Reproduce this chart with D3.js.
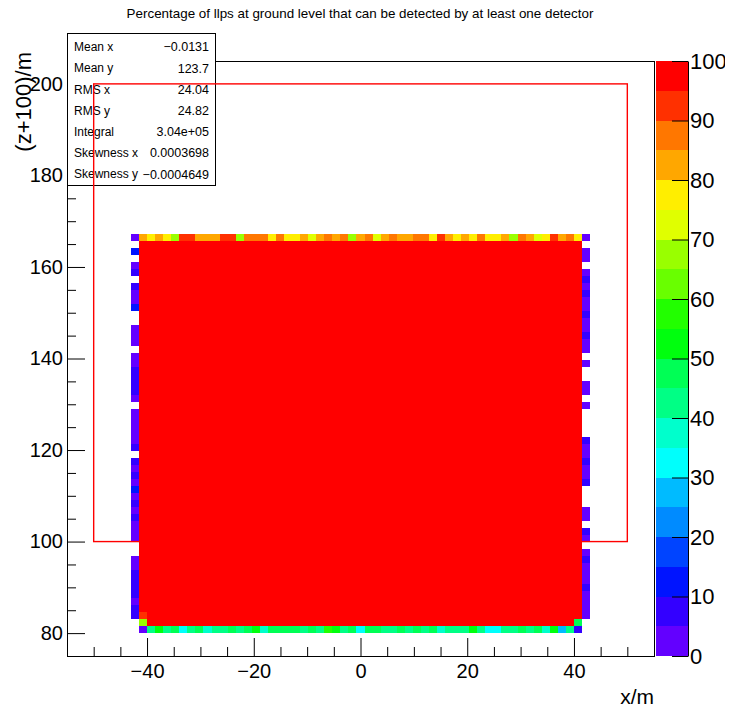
<!DOCTYPE html>
<html>
<head>
<meta charset="utf-8">
<script src="https://cdn.jsdelivr.net/npm/d3@7"></script>
<style>
  body { margin: 0; background: #fff; }
  svg { display: block; font-family: "Liberation Sans", Arial, sans-serif; }
</style>
</head>
<body>
<div id="root"></div>
<script>
// binning of the filled part of the histogram (x/m and (z+100)/m)
const xBinRange = [-43, 43];
const yBinRange = [80, 167.2];
const nBinsX = 57;
const nBinsY = 57;

// value of every bin inside the border
const fullValue = 100;

// border bins, in percent (null = empty bin)
const topRow = [82, 77, 82, 77, 67, 92, 92, 82, 82, 82, 92, 92, 67, 87, 87, 87, 77, 87, 77, 77,
  82, 72, 82, 87, 82, 87, 67, 82, 87, 72, 82, 87, 82, 82, 87, 87, 77, 92, 82, 77,
  82, 77, 87, 77, 77, 82, 67, 87, 82, 72, 77, 92, 82, 87, 77];
const bottomRow = [3, 42, 52, 42, 47, 32, 42, 47, 37, 42, 42, 47, 42, 47, 52, 37, 47, 47, 47, 47,
  42, 47, 42, 57, 52, 42, 47, 32, 47, 47, 42, 42, 47, 42, 47, 42, 47, 37, 42, 42,
  42, 52, 42, 32, 32, 42, 42, 47, 42, 47, 37, 52, 27, 42, 7];
// from bottom row to top row
const leftColumn = [null, null, 7, 7, 3, 7, 7, 7, 7, 3, 3, null, null, 3, 3, 3, 7, 3, 7, 3,
  12, 3, 7, 3, 7, null, 7, 3, 3, 3, 3, 3, null, 3, 7, 7, 7, 7, 3, 3,
  null, 3, 3, 3, null, null, 12, 3, 3, 7, null, 7, 3, null, 12, null, 3];
const rightColumn = [null, null, 3, 3, 3, 3, 7, 3, 3, 3, 7, 3, null, 3, 7, null, 3, 3, null, null,
  null, 7, 3, 3, 7, 3, 3, 7, null, null, null, null, 3, null, 3, 3, null, null, 3, null,
  3, 3, 7, 3, 3, 7, 3, 3, 7, 3, 7, 3, null, 3, 3, null, 3];
// [column, row, value]
const cornerBins = [[1, 1, 67], [1, 2, 92], [55, 1, 47]];

const statNames = ["Mean x", "Mean y", "RMS x", "RMS y", "Integral", "Skewness x", "Skewness y"];
const statValues = ["\u22120.0131", "123.7", "24.04", "24.82", "3.04e+05", "0.0003698", "\u22120.0004649"];

const xTicks = [-40, -20, 0, 20, 40];
const yTicks = [80, 100, 120, 140, 160, 180, 200];
const zTicks = [0, 10, 20, 30, 40, 50, 60, 70, 80, 90, 100];

// red box drawn on the plot
const boxCorners = [[-50, 100], [50, 200]];

const W = 735, H = 712;
const frame = { left: 67, right: 654, top: 61, bottom: 656 };
const nLevels = 20;

// ROOT "pretty" palette, 50 colours violet -> red, picked for 20 contours
const palette = d3.range(nLevels).map(j => {
  const idx = Math.floor((j + 0.99) * 50 / nLevels);
  const hue = 280 - (idx + 1) * 5.6;
  return d3.hsl(hue, 1, 0.5).formatHex();
});

function buildBins() {
  const bins = [];
  for (let r = 0; r < nBinsY; r++) {
    for (let c = 0; c < nBinsX; c++) {
      let v;
      if (c === 0) v = leftColumn[r];
      else if (c === nBinsX - 1) v = rightColumn[r];
      else if (r === 0) v = bottomRow[c - 1];
      else if (r === nBinsY - 1) v = topRow[c - 1];
      else v = fullValue;
      const corner = cornerBins.find(b => b[0] === c && b[1] === r);
      if (corner) v = corner[2];
      if (v != null) bins.push({ col: c, row: r, value: v });
    }
  }
  return bins;
}

const svg = d3.select("#root").append("svg")
  .attr("width", W)
  .attr("height", H);

svg.append("rect").attr("width", W).attr("height", H).attr("fill", "#fff");

const x = d3.scaleLinear().domain([-55, 55]).range([frame.left, frame.right]);
const y = d3.scaleLinear().domain([75, 205]).range([frame.bottom, frame.top]);
const z = d3.scaleLinear().domain([0, 100]).range([frame.bottom, frame.top]);

const xEdge = d3.scaleLinear().domain([0, nBinsX]).range(xBinRange);
const yEdge = d3.scaleLinear().domain([0, nBinsY]).range(yBinRange);
const level = v => Math.min(nLevels - 1, Math.floor(v / (100 / nLevels)));

// bins
svg.append("g")
  .attr("shape-rendering", "crispEdges")
  .selectAll("rect")
  .data(buildBins())
  .join("rect")
  .attr("x", d => Math.round(x(xEdge(d.col))))
  .attr("y", d => Math.round(y(yEdge(d.row + 1))))
  .attr("width", d => Math.round(x(xEdge(d.col + 1))) - Math.round(x(xEdge(d.col))))
  .attr("height", d => Math.round(y(yEdge(d.row))) - Math.round(y(yEdge(d.row + 1))))
  .attr("fill", d => palette[level(d.value)]);

// axes
const minorX = d3.range(-55, 56, 5).filter(v => !xTicks.includes(v));
const minorY = d3.range(75, 206, 5).filter(v => !yTicks.includes(v));

function styleAxis(g, size) {
  g.select(".domain").remove();
  g.selectAll("line").attr("stroke", "#000");
  g.selectAll("text").attr("fill", "#000").attr("font-size", size);
  g.attr("font-family", null);
}

svg.append("g")
  .attr("transform", `translate(0,${frame.bottom})`)
  .call(d3.axisBottom(x).tickValues(minorX).tickSize(-9).tickFormat(""))
  .call(g => styleAxis(g, 20));
svg.append("g")
  .attr("transform", `translate(0,${frame.bottom})`)
  .call(d3.axisBottom(x).tickValues(xTicks).tickSize(-18).tickPadding(8))
  .call(g => styleAxis(g, 20));

svg.append("g")
  .attr("transform", `translate(${frame.left},0)`)
  .call(d3.axisLeft(y).tickValues(minorY).tickSize(-9).tickFormat(""))
  .call(g => styleAxis(g, 20));
svg.append("g")
  .attr("transform", `translate(${frame.left},0)`)
  .call(d3.axisLeft(y).tickValues(yTicks).tickSize(-18).tickPadding(4))
  .call(g => styleAxis(g, 20));

svg.append("rect")
  .attr("x", frame.left).attr("y", frame.top)
  .attr("width", frame.right - frame.left)
  .attr("height", frame.bottom - frame.top)
  .attr("fill", "none")
  .attr("stroke", "#000")
  .attr("shape-rendering", "crispEdges");

// axis titles
svg.append("text")
  .text("x/m")
  .attr("x", frame.right)
  .attr("y", 704)
  .attr("text-anchor", "end")
  .attr("font-size", 21);

svg.append("text")
  .text("(z+100)/m")
  .attr("transform", "translate(31,52) rotate(-90)")
  .attr("text-anchor", "end")
  .attr("font-size", 22);

// title
svg.append("text")
  .text("Percentage of llps at ground level that can be detected by at least one detector")
  .attr("x", 360)
  .attr("y", 18)
  .attr("text-anchor", "middle")
  .attr("font-size", 13.4);

// colour palette
const barX0 = 656, barX1 = 688;
svg.append("g")
  .attr("shape-rendering", "crispEdges")
  .selectAll("rect")
  .data(palette)
  .join("rect")
  .attr("x", barX0)
  .attr("y", (d, i) => z((i + 1) * 100 / nLevels))
  .attr("width", barX1 - barX0)
  .attr("height", (d, i) => z(i * 100 / nLevels) - z((i + 1) * 100 / nLevels))
  .attr("fill", d => d);

// labels of the palette run past the pad edge
svg.append("clipPath").attr("id", "pad-clip")
  .append("rect").attr("x", -barX1).attr("y", 0).attr("width", 725).attr("height", H);

svg.append("g")
  .attr("transform", `translate(${barX1},0)`)
  .attr("clip-path", "url(#pad-clip)")
  .call(d3.axisRight(z).tickValues(zTicks).tickSize(-16).tickSizeOuter(0).tickPadding(2))
  .call(g => {
    g.select(".domain").attr("stroke", "#000");
    g.selectAll("line").attr("stroke", "#000");
    g.selectAll("text").attr("fill", "#000").attr("font-size", 22);
    g.attr("font-family", null);
  });

// stats box
const stats = svg.append("g");
const boxX = 67, boxY = 33, boxW = 148, boxH = 152;
stats.append("rect")
  .attr("x", boxX).attr("y", boxY)
  .attr("width", boxW).attr("height", boxH)
  .attr("fill", "#fff").attr("stroke", "#000")
  .attr("shape-rendering", "crispEdges");
const lineH = 21.2;
stats.selectAll("text.name")
  .data(statNames)
  .join("text")
  .attr("class", "name")
  .text(d => d)
  .attr("x", boxX + 7)
  .attr("y", (d, i) => 47 + lineH * i)
  .attr("dy", "0.35em")
  .attr("font-size", 12);
stats.selectAll("text.value")
  .data(statValues)
  .join("text")
  .attr("class", "value")
  .text(d => d)
  .attr("x", boxX + boxW - 6)
  .attr("y", (d, i) => 47 + lineH * i)
  .attr("dy", "0.35em")
  .attr("text-anchor", "end")
  .attr("font-size", 12.5);

// red box
svg.append("rect")
  .attr("x", x(boxCorners[0][0]))
  .attr("y", y(boxCorners[1][1]))
  .attr("width", x(boxCorners[1][0]) - x(boxCorners[0][0]))
  .attr("height", y(boxCorners[0][1]) - y(boxCorners[1][1]))
  .attr("fill", "none")
  .style("stroke", "red")
  .style("stroke-width", 1.4);
</script>
</body>
</html>
